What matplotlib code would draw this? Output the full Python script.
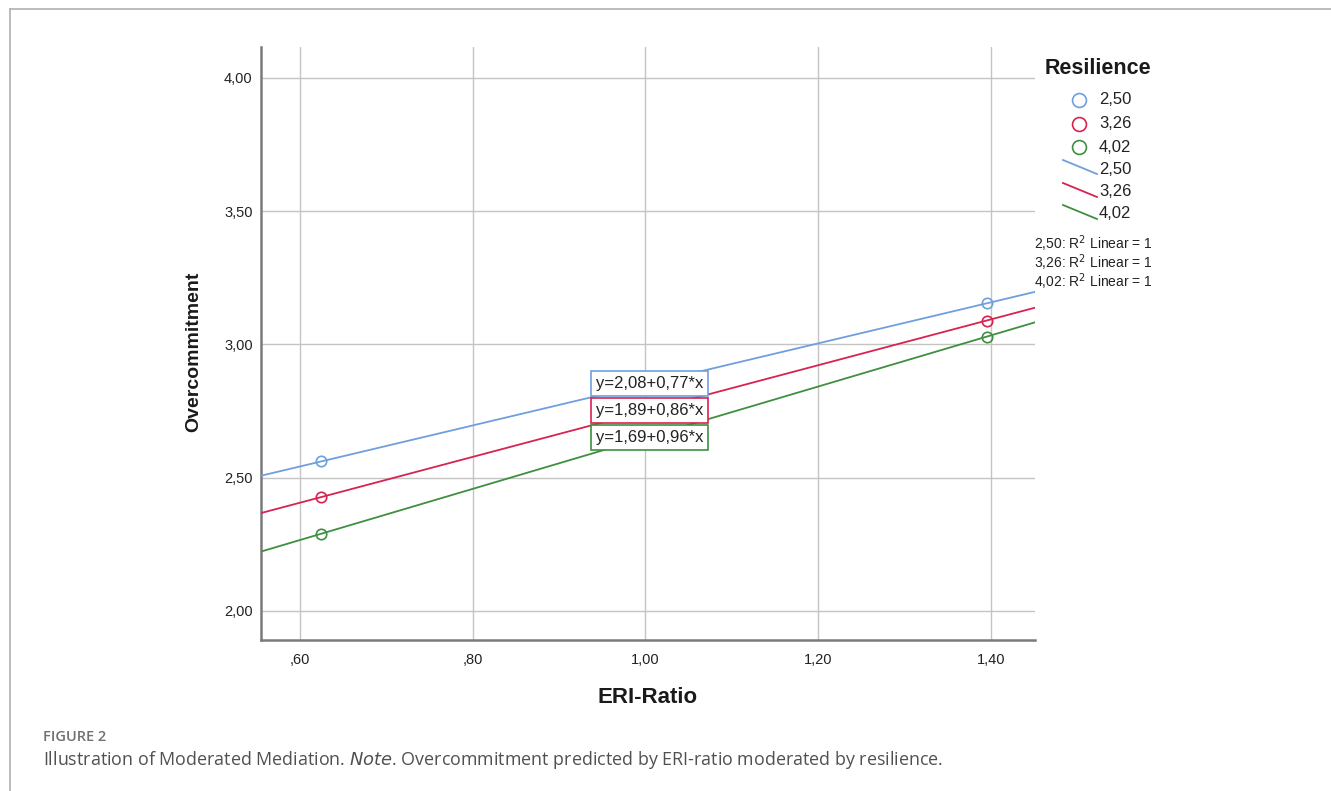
import matplotlib
matplotlib.use("Agg")
import matplotlib.pyplot as plt
from matplotlib.lines import Line2D
import numpy as np

# ---- data ----
groups = ["2,50", "3,26", "4,02"]
colors = ["#6f9fdc", "#d7234f", "#3f8f3f"]
x_points = [0.625, 1.395]
y_points = {
    "2,50": [2.561, 3.154],
    "3,26": [2.4275, 3.0897],
    "4,02": [2.29, 3.029],
}
intercepts = [2.08, 1.89, 1.69]
slopes = [0.77, 0.86, 0.96]
equations = ["y=2,08+0,77*x", "y=1,89+0,86*x", "y=1,69+0,96*x"]
x_ticks = [0.6, 0.8, 1.0, 1.2, 1.4]
x_ticklabels = [",60", ",80", "1,00", "1,20", "1,40"]
y_ticks = [2.0, 2.5, 3.0, 3.5, 4.0]
y_ticklabels = ["2,00", "2,50", "3,00", "3,50", "4,00"]

plt.rcParams['font.family'] = ['Liberation Sans', 'DejaVu Sans']

W, H = 1331, 791
fig = plt.figure(figsize=(W / 100, H / 100), dpi=100)
fig.patch.set_facecolor("white")

# outer frame (page border)
fig.add_artist(Line2D([9.5 / W, 9.5 / W], [0, 1 - 8.5 / H], transform=fig.transFigure, color="#b0b0b0", lw=1.2))
fig.add_artist(Line2D([9.5 / W, 1], [1 - 8.5 / H, 1 - 8.5 / H], transform=fig.transFigure, color="#b0b0b0", lw=1.2))

ax = fig.add_axes([261 / W, 1 - 640 / H, (1035 - 261) / W, (640 - 47) / H])
xmin, xmax = 0.555, 1.451
ymin, ymax = 1.891, 4.116
ax.set_xlim(xmin, xmax)
ax.set_ylim(ymin, ymax)

for s in ["top", "right"]:
    ax.spines[s].set_visible(False)
for s in ["left", "bottom"]:
    ax.spines[s].set_color("#7a7a7a")
    ax.spines[s].set_linewidth(1.8)

ax.set_xticks(x_ticks)
ax.set_xticklabels(x_ticklabels)
ax.set_yticks(y_ticks)
ax.set_yticklabels(y_ticklabels)
ax.tick_params(length=0, labelsize=10.5, colors="#222222")
ax.tick_params(axis="y", pad=6)
ax.tick_params(axis="x", pad=9)
ax.grid(True, color="#c4c4c4", lw=1.0)
ax.set_axisbelow(True)

xx = np.array([xmin, xmax])
for g, c, b0, b1 in zip(groups, colors, intercepts, slopes):
    ax.plot(xx, b0 + b1 * xx, color=c, lw=1.3, zorder=3)
    ax.plot(x_points, y_points[g], linestyle="none", marker="o", ms=7.5,
            mfc="none", mec=c, mew=1.2, zorder=4)

# equation boxes
box_y = [2.854, 2.752, 2.649]
for eq, c, by in zip(equations, colors, box_y):
    ax.text(0.9427, by, eq, fontsize=12, color="#222222", va="center", ha="left",
            bbox=dict(boxstyle="square,pad=0.3", fc="white", ec=c, lw=1.2), zorder=5)

ax.text(0.4994, -0.0978, "ERI-Ratio", transform=ax.transAxes, fontsize=16, fontweight="bold",
        ha="center", va="center", color="#1a1a1a")
ax.text(-0.0866, 0.4857, "Overcommitment", transform=ax.transAxes, fontsize=14, fontweight="bold",
        ha="center", va="center", rotation=90, color="#1a1a1a")

# legend (SPSS style)
fig.text(1045 / W, 1 - 69 / H, "Resilience", fontsize=15.5, fontweight="bold", va="center", ha="left", color="#1a1a1a")
ys = [100, 124, 147, 169, 192, 214]
for i, (g, c) in enumerate(zip(groups, colors)):
    y = 1 - ys[i] / H
    fig.add_artist(Line2D([1079 / W], [y], transform=fig.transFigure, marker="o", ms=10,
                          mfc="none", mec=c, mew=1.2, linestyle="none"))
    fig.text(1099 / W, y, g, fontsize=12, va="center", ha="left", color="#222222")
for i, (g, c) in enumerate(zip(groups, colors)):
    yc = ys[i + 3]
    fig.add_artist(Line2D([1063 / W, 1097 / W], [1 - (yc - 9) / H, 1 - (yc + 5) / H],
                          transform=fig.transFigure, color=c, lw=1.3))
    fig.text(1099 / W, 1 - yc / H, g, fontsize=12, va="center", ha="left", color="#222222")
for i, g in enumerate(groups):
    fig.text(1034 / W, 1 - (244 + 19 * i) / H, g + ": R$^{2}$ Linear = 1", fontsize=10,
             va="center", ha="left", color="#222222")

# caption
fig.text(43 / W, 1 - 737 / H, "FIGURE 2", fontsize=10.5, color="#707070", va="center", ha="left",
         fontweight="semibold", family=["Open Sans", "DejaVu Sans"])
fig.text(43 / W, 1 - 760 / H,
         "Illustration of Moderated Mediation. $\\it{Note}$. Overcommitment predicted by ERI-ratio moderated by resilience.",
         fontsize=12.9, color="#505050", va="center", ha="left", family=["Open Sans", "DejaVu Sans"])

fig.savefig("out.png", dpi=100)
